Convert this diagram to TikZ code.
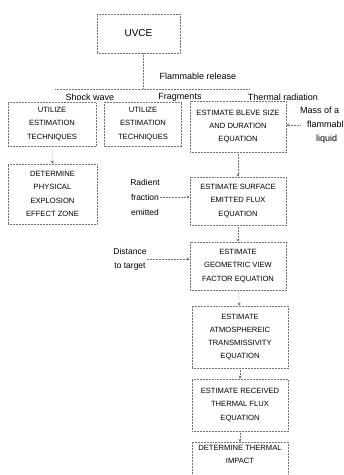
\documentclass[tikz,border=0pt]{standalone}
\usepackage{fontspec}
\setmainfont{Liberation Sans}
\usetikzlibrary{arrows.meta}
\begin{document}
\begin{tikzpicture}[x=1pt,y=-1pt,
  dline/.style={draw=black!55, densely dotted, line width=0.5pt},
  box/.style={dline, rectangle, inner sep=0pt, align=center, text=black,
    font=\fontsize{7.6}{13.2}\selectfont},
  lbl/.style={inner sep=0pt, text=black, font=\fontsize{9}{14}\selectfont, align=center},
  arr/.style={dline, -{Stealth[length=3pt,width=3pt]}},
]
\useasboundingbox (0,0) rectangle (344,475);
\fill[white] (0,0) rectangle (344,475);

% top
\node[box, minimum width=83, minimum height=39, font=\fontsize{10}{12}\selectfont] (uvce) at (138.5,33.5) {UVCE};
\coordinate (bus) at (143,89);
\coordinate (busL) at (55,89);
\coordinate (busR) at (250,89);
\draw[dline] (uvce.south -| bus) -- (bus);
\draw[dline] (busL) -- (busR);
\node[lbl] (fr) at (198,76) {Flammable release};
\node[lbl] (sw) at (90,97) {Shock wave};
\node[lbl] (fg) at (180,97) {Fragments};
\node[lbl] (tr) at (283,97) {Thermal radiation};

% row of boxes
\node[box, minimum width=88, minimum height=44] (A) at (52,124) {UTILIZE\\ESTIMATION\\TECHNIQUES};
\node[box, minimum width=77, minimum height=44] (B) at (143,124) {UTILIZE\\ESTIMATION\\TECHNIQUES};
\node[box, minimum width=96, minimum height=51] (C) at (238,126.5) {ESTIMATE BLEVE SIZE\\AND DURATION\\EQUATION};

\node[lbl, align=left, anchor=west] (mass) at (300,125) {Mass of a\\\hspace*{7pt}flammable\\\hspace*{16pt}liquid};
\draw[arr] (mass.west) -- (mass.west -| C.east);

% shock wave branch
\node[box, minimum width=89, minimum height=60] (D) at (52.5,194) {DETERMINE\\PHYSICAL\\EXPLOSION\\EFFECT ZONE};
\draw[arr] (A) -- (D);

% thermal chain
\node[box, minimum width=96, minimum height=48] (E) at (238,201) {ESTIMATE SURFACE\\EMITTED FLUX\\EQUATION};
\node[box, minimum width=96, minimum height=48] (F) at (238,266) {ESTIMATE\\GEOMETRIC VIEW\\FACTOR EQUATION};
\node[box, minimum width=96, minimum height=62] (G) at (240,337) {ESTIMATE\\ATMOSPHEREIC\\TRANSMISSIVITY\\EQUATION};
\node[box, minimum width=96, minimum height=52] (H) at (240,405) {ESTIMATE RECEIVED\\THERMAL FLUX\\EQUATION};
\node[box, minimum width=96, minimum height=44, anchor=north] (I) at (240,442) {};
\node[inner sep=0pt, align=center, font=\fontsize{7.6}{13.2}\selectfont, anchor=north] (It) at (240,445) {DETERMINE THERMAL\\IMPACT};

\draw[arr] (C) -- (E);
\draw[arr] (E) -- (F);
\draw[arr] (F) -- (G);
\draw[arr] (G) -- (H);
\draw[arr] (H) -- (I);

\node[lbl, font=\fontsize{8.5}{15}\selectfont] (rad) at (145,197) {Radient\\fraction\\emitted};
\draw[arr] (rad.east) -- (rad.east -| E.west);
\node[lbl, font=\fontsize{8.5}{14}\selectfont] (dist) at (130,259) {Distance\\to target};
\draw[arr] (dist.east) -- (dist.east -| F.west);
\end{tikzpicture}
\end{document}
